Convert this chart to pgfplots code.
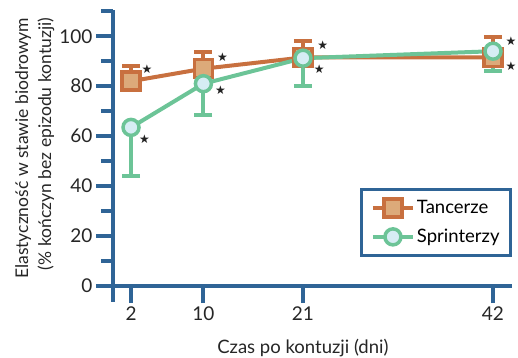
\documentclass[border=0pt]{standalone}
\usepackage{pgfplots}
\pgfplotsset{compat=1.18}
\usepackage{fontspec}
\setmainfont{Lato}
\newfontfamily\symfont{DejaVu Sans}
\definecolor{axblue}{HTML}{2F6496}
\definecolor{dorange}{HTML}{C8703F}
\definecolor{lorange}{HTML}{DCAA7A}
\definecolor{dgreen}{HTML}{6CC497}
\definecolor{lblue}{HTML}{D6EDF4}
\definecolor{stark}{HTML}{222222}
\begin{document}
\begin{tikzpicture}
\begin{axis}[
 scale only axis, width=414pt, height=292pt,
 xmin=-1.65, xmax=44.1, ymin=-6.4, ymax=110.5,
 axis lines=middle,
 axis line style={-, axblue, line width=4pt},
 xtick={2,10,21,42}, ytick={0,20,...,100},
 minor ytick={10,30,50,70,90,110},
 tick align=outside,
 major tick length=17pt, minor tick length=12pt,
 tick style={axblue, line width=4pt},
 minor tick style={axblue, line width=4pt},
 hide obscured x ticks=false, hide obscured y ticks=false,
 tick label style={font=\fontsize{19}{19}\selectfont, color=black!85},
 /pgf/number format/assume math mode=true,
 xlabel={Czas po kontuzji (dni)},
 ylabel={Elastyczność w stawie biodrowym\\(\% kończyn bez epizodu kontuzji)},
 every axis x label/.style={at={(axis description cs:0.495,0)}, anchor=base, yshift=-52pt, font=\fontsize{18.5}{22}\selectfont, color=black!85},
 every axis y label/.style={at={(axis description cs:-0.153,0.985)}, anchor=east, rotate=90, align=right, font=\fontsize{17.5}{23}\selectfont, color=black!85},
 clip=false,
 legend style={at={(axis description cs:1,0.39)}, anchor=north east, draw=axblue, line width=3pt, fill=white, font=\fontsize{18.5}{18.5}\selectfont, row sep=10pt, inner xsep=9pt, inner ysep=9pt},
 legend cell align=left,
 legend image code/.code={\draw[mark repeat=2,mark phase=2,#1] plot coordinates {(0pt,0pt)(20pt,0pt)(40pt,0pt)};},
]
\addplot[dorange, line width=4pt, mark=square*, mark size=9pt, mark options={fill=lorange, draw=dorange, line width=3.5pt},
 error bars/.cd, y dir=plus, y explicit, error bar style={line width=4pt, dorange}, error mark options={rotate=90, dorange, line width=4pt, mark size=9pt}]
 coordinates {(2,82) +- (0,6) (10,87) +- (0,6.5) (21,91.5) +- (0,6.5) (42,91.5) +- (0,8)};
\addlegendentry{Tancerze}
\addplot[dgreen, line width=4pt, mark=*, mark size=8pt, mark options={fill=lblue, draw=dgreen, line width=3.5pt},
 error bars/.cd, y dir=minus, y explicit, error bar style={line width=4pt, dgreen}, error mark options={rotate=90, dgreen, line width=4pt, mark size=9pt}]
 coordinates {(2,63.5) +- (0,19.5) (10,81) +- (0,12.5) (21,91.2) +- (0,11) (42,94) +- (0,8)};
\addlegendentry{Sprinterzy}
\addplot[only marks, forget plot, mark=text, text mark={\fontsize{12}{12}\symfont ★}, text mark as node=true, mark options={stark}]
 coordinates {(3.77,86.7) (12.1,91.6) (23.2,96.4) (44,98) (3.5,58.6) (11.9,78.3) (22.8,86.7) (44,88)};
\coordinate (bl) at (rel axis cs:0,0);
\coordinate (tr) at (rel axis cs:1,1);
\end{axis}
\pgfresetboundingbox
\path[use as bounding box] ([shift={(-98pt,-56pt)}]bl) rectangle ([shift={(6pt,10pt)}]tr);
\end{tikzpicture}
\end{document}
